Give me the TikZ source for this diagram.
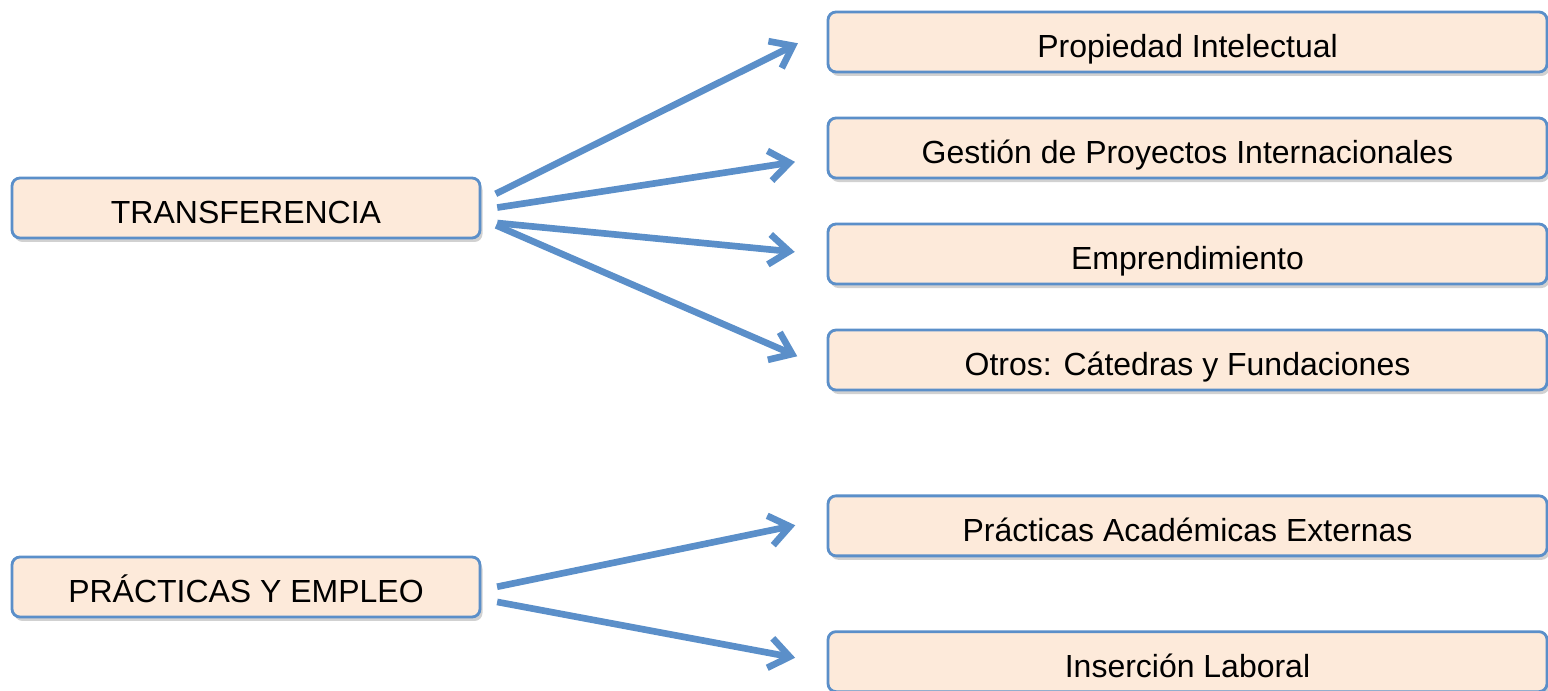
\documentclass[tikz,border=0pt]{standalone}
\usepackage{fontspec}
\setmainfont{Liberation Sans}
\usetikzlibrary{
  arrows.meta, % for Straight Barb arrow tip
  positioning, % for relative positioning of the boxes
  shadows, % for the soft shadow under each box
}
\definecolor{boxfill}{HTML}{FDEADA}
\definecolor{boxline}{HTML}{5B8FC9}
\tikzset{
  area/.style={ % style for every box
    rectangle,rounded corners=0.08cm, % rectangle with small round corners
    draw=boxline,line width=0.8pt, % thin blue border
    fill=boxfill, % light peach fill
    inner ysep=2pt, % small padding so the minimum height rules
    minimum height=0.6cm, % same height for every box
    text height=1.1em,text depth=0.2em, % sets the text a little lower, as in the original
    font=\fontsize{9.1}{11}\selectfont, % text size of the labels
    drop shadow={shadow xshift=0.025cm,shadow yshift=-0.04cm,opacity=0.3,fill=black!60},
  },
  topic/.style={ % style for the main areas on the left
    area, % inherit the box style
    minimum width=4.68cm,
  },
  subarea/.style={ % style for the boxes on the right
    area, % inherit the box style
    minimum width=7.19cm,
    node distance=0.432cm, % spacing between stacked boxes
  },
  conn/.style={ % style for the connections
    -{Straight Barb[length=0.2cm,width=0.3cm]}, % open barbed arrow tip
    draw=boxline,line width=1.9pt, % thick blue line
    shorten <=0.16cm,shorten >=0.32cm, % gap at both ends
  },
}
\begin{document}
\begin{tikzpicture}

	\useasboundingbox (0,0) rectangle (15.48,-6.91);

	\node[topic] (transf) at (2.46,-2.08) {TRANSFERENCIA};
	\node[topic] (practicas) at (2.46,-5.87) {PRÁCTICAS Y EMPLEO};

	\node[subarea] (propiedad) at (11.875,-0.42) {Propiedad Intelectual};
	\node[subarea,below=of propiedad] (gestion) {Gestión de Proyectos Internacionales};
	\node[subarea,below=of gestion] (emprende) {Emprendimiento};
	\node[subarea,below=of emprende] (otros) {Otros: Cátedras y Fundaciones};

	\node[subarea,below=1.03cm of otros] (externas) {Prácticas Académicas Externas};
	\node[subarea,below=0.73cm of externas] (insercion) {Inserción Laboral};

	\draw[conn] ([yshift=0.07cm]transf.east) -- ([yshift=0.13cm]propiedad.west);
	\draw[conn] ([yshift=-0.02cm]transf.east) -- ([yshift=-0.09cm]gestion.west);
	\draw[conn] ([yshift=-0.135cm]transf.east) -- ([yshift=-0.01cm]emprende.west);
	\draw[conn] ([yshift=-0.11cm]transf.east) -- ([yshift=-0.09cm]otros.west);
	\draw[conn] ([yshift=-0.03cm]practicas.east) -- ([yshift=0.07cm]externas.west);
	\draw[conn] ([yshift=-0.12cm]practicas.east) -- ([yshift=-0.02cm]insercion.west);

\end{tikzpicture}
\end{document}
